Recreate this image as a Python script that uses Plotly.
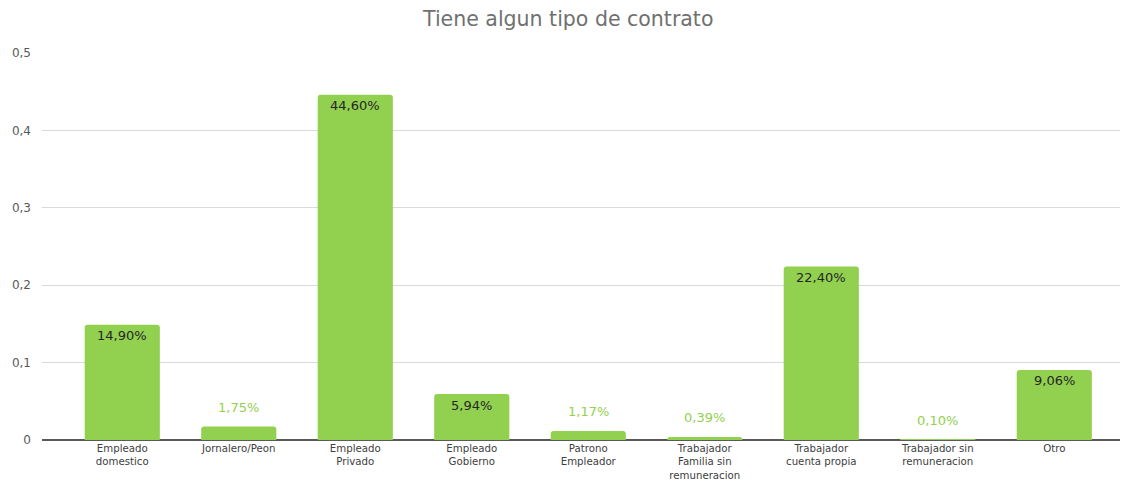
import plotly.graph_objects as go

categories = ["Empleado<br>domestico", "Jornalero/Peon", "Empleado<br>Privado", "Empleado<br>Gobierno",
              "Patrono<br>Empleador", "Trabajador<br>Familia sin<br>remuneracion", "Trabajador<br>cuenta propia",
              "Trabajador sin<br>remuneracion", "Otro"]
values = [0.149, 0.0175, 0.446, 0.0594, 0.0117, 0.0039, 0.224, 0.001, 0.0906]
labels = ["14,90%", "1,75%", "44,60%", "5,94%", "1,17%", "0,39%", "22,40%", "0,10%", "9,06%"]
yticks = [0, 0.1, 0.2, 0.3, 0.4, 0.5]
ytick_text = ["0", "0,1", "0,2", "0,3", "0,4", "0,5"]

GREEN = "#92D050"
FONT = "DejaVu Sans"

fig = go.Figure()
fig.add_trace(go.Bar(x=list(range(len(categories))), y=values, marker=dict(color=GREEN, line=dict(width=0)),
                     width=0.645, hoverinfo="skip"))

for i, (v, t) in enumerate(zip(values, labels)):
    inside = v > 0.03
    fig.add_annotation(x=i, y=v, text=t, showarrow=False, yanchor="middle",
                       yshift=-11 if inside else 19,
                       font=dict(family=FONT, size=13, color="#262626" if inside else GREEN))

fig.update_layout(
    width=1123, height=481,
    margin=dict(l=42, r=3, t=53, b=41),
    paper_bgcolor="white", plot_bgcolor="white",
    barcornerradius=3,
    showlegend=False,
    title=dict(text="Tiene algun tipo de contrato", x=0.506, xanchor="center", y=0.961, yanchor="middle",
               font=dict(family=FONT, size=20.5, color="#707070")),
    xaxis=dict(range=[-0.689, 8.564], tickvals=list(range(len(categories))), ticktext=categories,
               showgrid=False, showline=False, zeroline=False, ticks="", automargin=False,
               ticklabelstandoff=1,
               tickfont=dict(family=FONT, size=10.2, color="#404040")),
    yaxis=dict(range=[0, 0.5], tickvals=yticks, ticktext=ytick_text, showgrid=True, gridcolor="#d9d9d9",
               gridwidth=1, zeroline=True, zerolinecolor="#595959", zerolinewidth=2, showline=False,
               ticks="", automargin=False, ticklabelstandoff=10,
               tickfont=dict(family=FONT, size=12, color="#595959")),
)

fig.write_html("out.html", config={"displayModeBar": False},
               post_script="document.body.style.margin='0px';")
